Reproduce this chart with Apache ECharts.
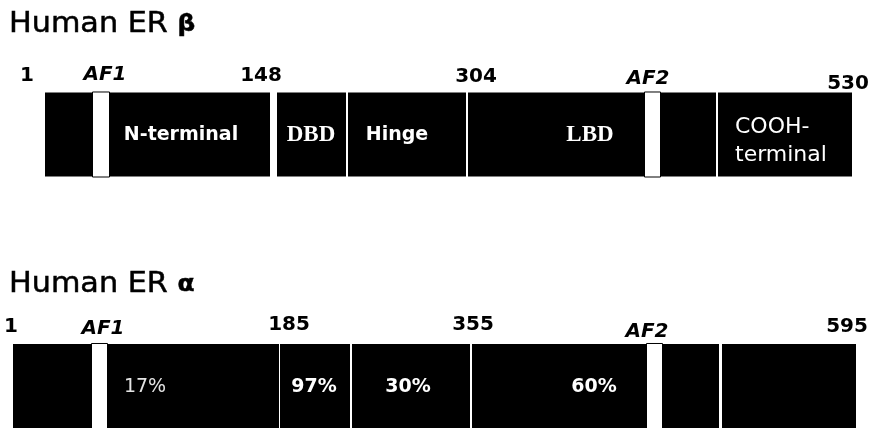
<!DOCTYPE html>
<html><head><meta charset="utf-8">
<script src="https://cdn.jsdelivr.net/npm/echarts@6/dist/echarts.min.js"></script>
<style>html,body{margin:0;padding:0;background:#fff}#c{width:874px;height:428px}</style>
</head><body><div id="c"></div>
<script>
// ---- data (positions along the schematic) ----
const receptors = ['Human ER', 'Human ER'];
const receptorGreek = ['β', 'α'];

const betaDomainStart  = [45, 277, 348, 468, 718];
const betaDomainEnd    = [270, 346, 466, 716, 852];
const betaDomainText   = ['N-terminal', 'DBD', 'Hinge', 'LBD', 'COOH-\nterminal'];
const betaDomainTextAt = [181, 311, 397, 590, 735];
const betaAFStart = [92, 644];
const betaAFEnd   = [109, 660];
const betaMarkText = ['1', 'AF1', '148', '304', 'AF2', '530'];
const betaMarkAt   = [27, 105, 261, 476, 648, 848];

const alphaDomainStart  = [13, 280, 352, 472, 722];
const alphaDomainEnd    = [279, 350, 470, 719, 856];
const alphaDomainText   = ['17%', '97%', '30%', '60%', ''];
const alphaDomainTextAt = [145, 314, 408, 594, 789];
const alphaAFStart = [91, 646];
const alphaAFEnd   = [107, 662];
const alphaMarkText = ['1', 'AF1', '185', '355', 'AF2', '595'];
const alphaMarkAt   = [11, 103, 289, 473, 647, 847];

// ---- styling ----
const BAR_FRAC = 0.334;
const markLift = [[17, 18, 17, 16, 14, 9], [17, 15, 19, 19, 12, 17]];
const domainFont = {
  'N-terminal': {font: 'bold 19px "DejaVu Sans"', align: 'center', dy: 1},
  'DBD': {font: 'bold 23px "Liberation Serif"', align: 'center', dy: 1},
  'Hinge': {font: 'bold 19px "DejaVu Sans"', align: 'center', dy: 1},
  'LBD': {font: 'bold 23px "Liberation Serif"', align: 'center', dy: 1},
  'COOH-\nterminal': {font: '22px "DejaVu Sans"', align: 'left', lineHeight: 28, dy: 7},
  '17%': {font: '19px "DejaVu Sans"', align: 'center', fill: '#e4e4e4', dy: 1},
  '97%': {font: 'bold 19px "DejaVu Sans"', align: 'center', dy: 1},
  '30%': {font: 'bold 19px "DejaVu Sans"', align: 'center', dy: 1},
  '60%': {font: 'bold 19px "DejaVu Sans"', align: 'center', dy: 1},
  '': {font: '19px "DejaVu Sans"', align: 'center', dy: 0}
};

// ---- build series data ----
const domains = [], afs = [], marks = [];
[[betaDomainStart, betaDomainEnd, betaDomainText, betaDomainTextAt],
 [alphaDomainStart, alphaDomainEnd, alphaDomainText, alphaDomainTextAt]].forEach((r, row) => {
  r[0].forEach((s, i) => domains.push({value: [row, s, r[1][i], r[3][i]], text: r[2][i]}));
});
[[betaAFStart, betaAFEnd], [alphaAFStart, alphaAFEnd]].forEach((r, row) => {
  r[0].forEach((s, i) => afs.push({value: [row, s, r[1][i]]}));
});
[[betaMarkText, betaMarkAt], [alphaMarkText, alphaMarkAt]].forEach((r, row) => {
  r[0].forEach((t, i) => marks.push({value: [row, r[1][i], i], text: t}));
});

const chart = echarts.init(document.getElementById('c'), null, {renderer: 'canvas'});

function barGeom(api, row, x0, x1) {
  const a = api.coord([x0, row]);
  const b = api.coord([x1, row]);
  const h = api.size([0, 1])[1] * BAR_FRAC;
  return {x: a[0], y: a[1] - h / 2, w: b[0] - a[0], h: h, cy: a[1]};
}

function titleText(i, y) {
  return {type: 'text', x: 9, y: y, scaleX: 1.08,
    style: {text: receptors[i] + ' {g|' + receptorGreek[i] + '}', fontFamily: 'DejaVu Sans', fontSize: 28,
      fill: '#000', stroke: '#000', lineWidth: 0.5, verticalAlign: 'top',
      rich: {g: {fontFamily: 'DejaVu Sans', fontSize: 23, fontWeight: 'bold', fill: '#000'}}}};
}

chart.setOption({
  animation: false,
  backgroundColor: '#fff',
  graphic: [titleText(0, 11), titleText(1, 271)],
  grid: {left: 0, top: 134.5, width: 874, height: 251.5},
  xAxis: {type: 'value', min: 0, max: 874, show: false},
  yAxis: {type: 'value', min: 0, max: 1, inverse: true, show: false},
  series: [
    {
      type: 'custom', name: 'domains', data: domains,
      encode: {x: [1, 2], y: 0},
      renderItem: function (params, api) {
        const d = domains[params.dataIndex];
        const g = barGeom(api, api.value(0), api.value(1), api.value(2));
        const f = domainFont[d.text];
        const tx = api.coord([api.value(3), api.value(0)])[0];
        return {type: 'group', children: [
          {type: 'rect', shape: {x: g.x, y: g.y, width: g.w, height: g.h}, style: {fill: '#000'}},
          {type: 'text', x: tx, y: g.cy + f.dy, style: {text: d.text, font: f.font, fill: f.fill || '#fff',
            align: f.align, verticalAlign: 'middle', lineHeight: f.lineHeight}}
        ]};
      }
    },
    {
      type: 'custom', name: 'AF', data: afs,
      encode: {x: [1, 2], y: 0},
      renderItem: function (params, api) {
        const g = barGeom(api, api.value(0), api.value(1), api.value(2));
        return {type: 'rect', shape: {x: g.x + 0.5, y: g.y - 0.5, width: g.w, height: g.h + 1},
          style: {fill: '#fff', stroke: '#000', lineWidth: 1}};
      }
    },
    {
      type: 'custom', name: 'marks', data: marks,
      encode: {x: 1, y: 0},
      renderItem: function (params, api) {
        const m = marks[params.dataIndex];
        const row = api.value(0);
        const g = barGeom(api, row, api.value(1), api.value(1));
        const italic = m.text.indexOf('AF') === 0;
        return {type: 'text', x: g.x, y: g.y - markLift[row][api.value(2)],
          style: {text: m.text, font: (italic ? 'italic ' : '') + 'bold 20px "DejaVu Sans"',
            fill: '#000', align: 'center', verticalAlign: 'middle'}};
      }
    }
  ]
});
</script></body></html>
